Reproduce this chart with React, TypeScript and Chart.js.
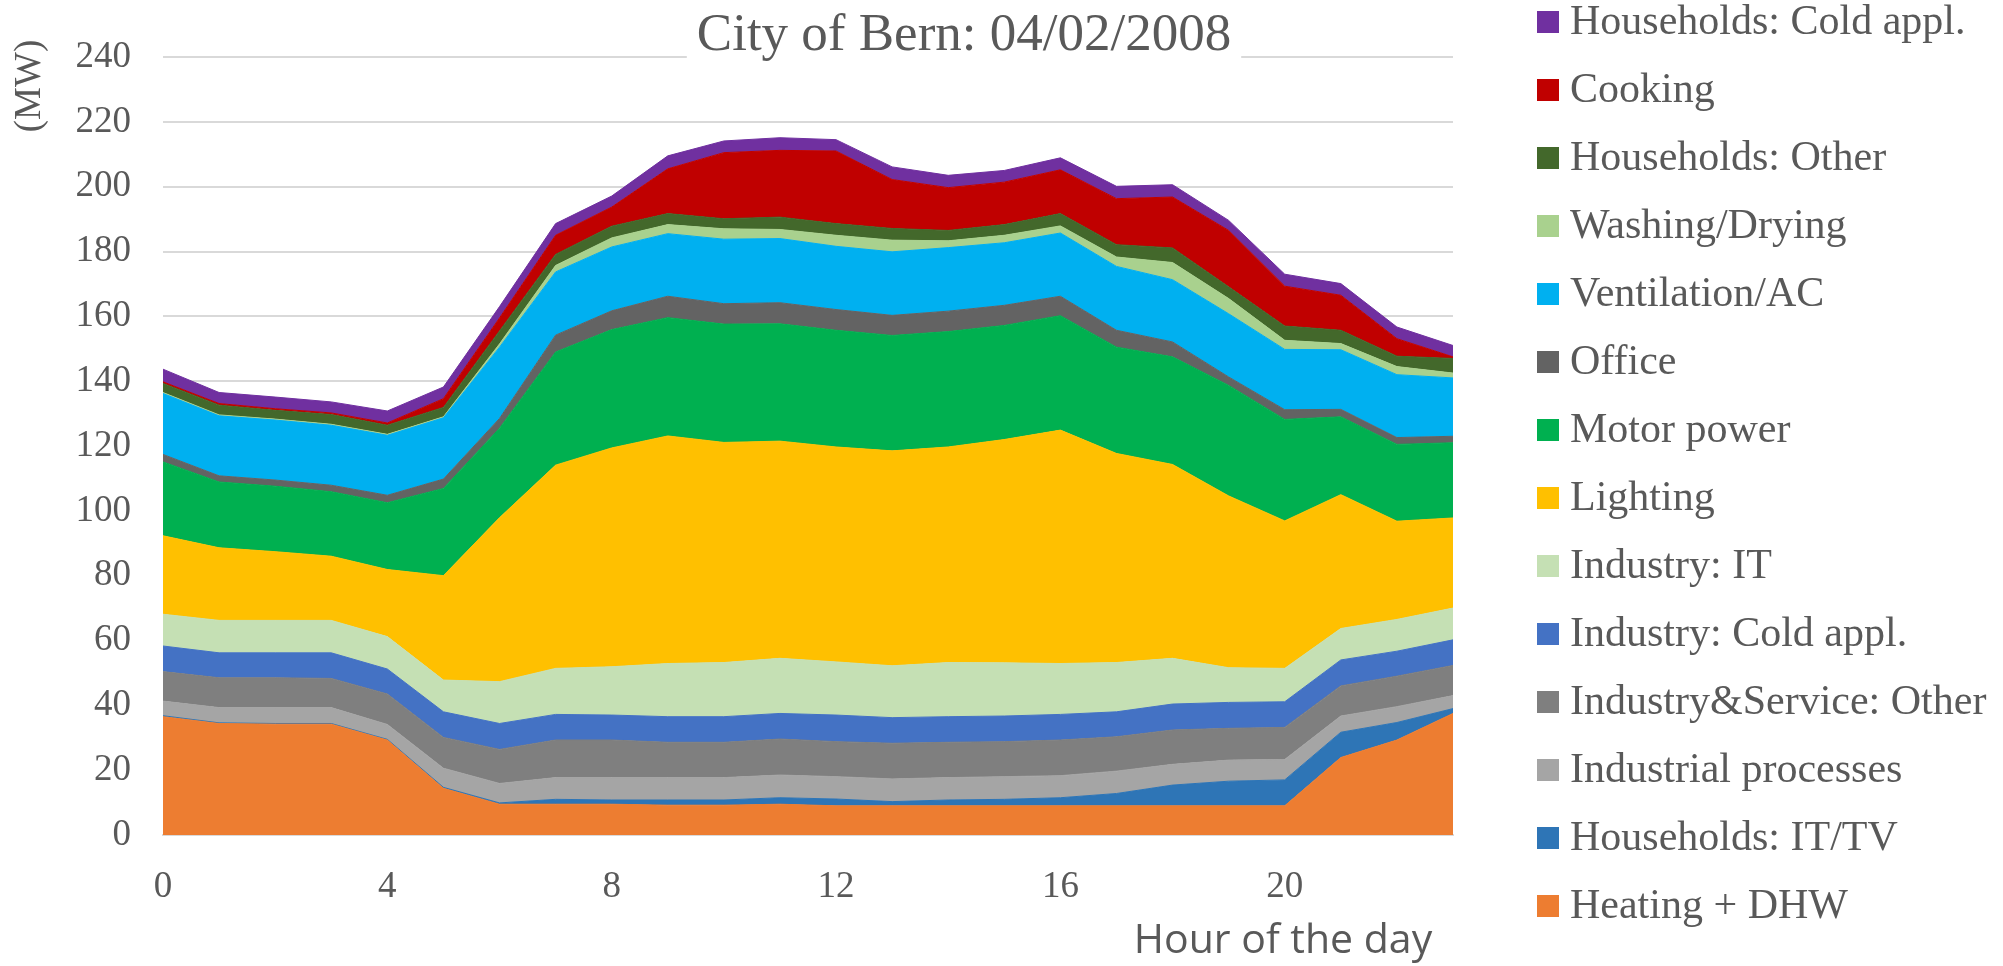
import React, { useEffect, useRef } from 'react';
import { Chart, registerables } from 'chart.js';

Chart.register(...registerables);

// ---- Data (MW per hour, stacked from bottom to top) ----
const hours = [0, 1, 2, 3, 4, 5, 6, 7, 8, 9, 10, 11, 12, 13, 14, 15, 16, 17, 18, 19, 20, 21, 22, 23];

const heatingDhw = [36.5, 34.4, 34.2, 34.2, 29.3, 14.4, 9.5, 9.5, 9.5, 9.2, 9.2, 9.5, 9.0, 9.0, 9.0, 9.0, 9.0, 9.0, 9.0, 9.0, 9.0, 23.9, 29.3, 37.5];
const householdsItTv = [0.3, 0.2, 0.2, 0.2, 0.2, 0.3, 0.4, 1.5, 1.3, 1.6, 1.6, 2.0, 2.1, 1.3, 1.8, 2.0, 2.5, 3.8, 6.4, 7.6, 8.0, 7.8, 5.4, 1.5];
const industrialProcesses = [4.5, 4.7, 4.9, 4.9, 4.6, 5.9, 6.0, 6.7, 6.9, 6.9, 6.9, 7.0, 6.9, 7.0, 6.9, 7.0, 6.8, 6.9, 6.4, 6.5, 6.3, 5.0, 4.9, 4.0];
const industryServiceOther = [9.1, 9.2, 9.2, 9.0, 9.4, 9.5, 10.5, 11.6, 11.6, 10.9, 10.9, 11.1, 10.8, 11.0, 10.9, 10.8, 11.0, 10.6, 10.6, 9.8, 9.9, 9.3, 9.4, 9.3];
const industryColdAppl = [7.9, 7.7, 7.7, 7.9, 7.7, 7.9, 8.0, 7.9, 7.7, 7.9, 7.9, 7.9, 8.2, 7.9, 7.9, 7.9, 7.9, 7.7, 8.0, 8.0, 7.9, 8.0, 7.7, 7.9];
const industryIt = [9.8, 10.0, 10.0, 10.0, 10.0, 9.8, 12.9, 14.2, 14.9, 16.4, 16.7, 17.0, 16.4, 16.0, 16.7, 16.4, 15.7, 15.2, 14.1, 10.7, 10.3, 9.7, 9.8, 9.8];
const lighting = [24.2, 22.4, 21.2, 19.8, 20.7, 32.2, 50.6, 62.7, 67.5, 70.2, 67.9, 67.0, 66.3, 66.3, 66.5, 68.9, 72.0, 64.5, 59.8, 53.0, 45.5, 41.3, 30.3, 27.8];
const motorPower = [22.8, 20.3, 20.2, 19.9, 20.6, 26.9, 27.6, 34.9, 36.5, 36.5, 36.5, 36.2, 36.0, 35.6, 35.6, 35.2, 35.3, 32.8, 33.2, 34.1, 31.3, 24.0, 23.7, 23.2];
const office = [2.3, 1.9, 1.9, 2.0, 2.3, 2.9, 3.0, 5.2, 5.8, 6.6, 6.3, 6.5, 6.4, 6.2, 6.3, 6.2, 6.0, 5.2, 4.6, 2.6, 3.0, 2.3, 2.1, 2.0];
const ventilationAc = [18.8, 18.5, 18.5, 18.5, 18.5, 18.9, 22.0, 19.5, 19.7, 19.3, 19.9, 19.8, 19.5, 19.6, 19.6, 19.3, 19.5, 19.7, 19.2, 19.5, 18.6, 18.4, 19.4, 18.0];
const washingDrying = [0.3, 0.3, 0.3, 0.3, 0.3, 0.3, 1.0, 2.0, 2.8, 2.8, 3.2, 2.8, 3.4, 3.6, 2.1, 2.3, 2.2, 2.9, 5.3, 4.7, 2.8, 1.9, 2.5, 1.5];
const householdsOther = [2.8, 3.0, 2.7, 3.0, 2.8, 2.9, 4.0, 3.4, 3.6, 3.4, 3.1, 3.8, 3.6, 3.6, 3.2, 3.3, 3.8, 3.8, 4.5, 3.6, 4.4, 4.1, 3.2, 4.5];
const cooking = [0.5, 0.5, 0.5, 0.5, 0.7, 2.7, 4.0, 5.9, 5.9, 13.8, 20.4, 20.6, 22.4, 15.1, 13.2, 13.1, 13.5, 14.2, 15.7, 17.4, 12.3, 10.8, 5.4, 0.5];
const householdsColdAppl = [3.9, 3.4, 3.6, 3.4, 3.7, 3.6, 3.5, 3.6, 3.4, 4.0, 3.6, 3.9, 3.5, 3.9, 3.8, 3.6, 3.7, 3.8, 3.8, 3.1, 3.7, 3.6, 3.6, 3.5];

const seriesNames = [
  'Heating + DHW',
  'Households: IT/TV',
  'Industrial processes',
  'Industry&Service: Other',
  'Industry: Cold appl.',
  'Industry: IT',
  'Lighting',
  'Motor power',
  'Office',
  'Ventilation/AC',
  'Washing/Drying',
  'Households: Other',
  'Cooking',
  'Households: Cold appl.',
];
const seriesValues = [
  heatingDhw, householdsItTv, industrialProcesses, industryServiceOther, industryColdAppl,
  industryIt, lighting, motorPower, office, ventilationAc, washingDrying, householdsOther,
  cooking, householdsColdAppl,
];
const seriesColors = [
  '#ED7D31', '#2E75B6', '#A5A5A5', '#7F7F7F', '#4472C4', '#C5E0B4', '#FFC000',
  '#00B050', '#636363', '#00B0F0', '#A9D18E', '#43682B', '#C00000', '#7030A0',
];

const titleText = 'City of Bern: 04/02/2008';
const yTitle = '(MW)';
const xTitle = 'Hour of the day';
const yMin = 0;
const yMax = 240;
const yStep = 20;
const xLabelEvery = 4;

const TEXT = '#595959';
const GRID = '#D9D9D9';
const SERIF = "'Liberation Serif', 'Times New Roman', serif";
const SANS = "'Open Sans', 'Noto Sans', sans-serif";

const decorPlugin = {
  id: 'decor',
  afterDraw(chart: any) {
    const c = chart.ctx as CanvasRenderingContext2D;
    c.save();
    // Title with white box over the top gridline
    c.font = `53px ${SERIF}`;
    const tw = c.measureText(titleText).width;
    const tcx = 964;
    c.fillStyle = '#ffffff';
    c.fillRect(tcx - tw / 2 - 10, 0, tw + 20, 64);
    c.fillStyle = TEXT;
    c.textAlign = 'center';
    c.textBaseline = 'alphabetic';
    c.fillText(titleText, tcx, 50);

    // Y axis title (rotated)
    c.save();
    c.translate(30, 86);
    c.rotate(-Math.PI / 2);
    c.font = `37px ${SERIF}`;
    c.textAlign = 'center';
    c.textBaseline = 'middle';
    c.fillText(yTitle, 0, 0);
    c.restore();

    // X axis title
    c.font = `41px ${SANS}`;
    c.textAlign = 'center';
    c.textBaseline = 'alphabetic';
    c.fillStyle = TEXT;
    c.fillText(xTitle, 1283, 953);

    // Legend (reverse order: top series first)
    const ds = chart.data.datasets;
    c.font = `42px ${SERIF}`;
    c.textAlign = 'left';
    c.textBaseline = 'middle';
    for (let i = 0; i < ds.length; i++) {
      const d = ds[ds.length - 1 - i];
      const cy = 22 + 68 * i;
      c.fillStyle = d.backgroundColor;
      c.fillRect(1537, cy - 11, 22, 22);
      c.fillStyle = TEXT;
      c.fillText(d.label, 1570, cy + 1);
    }
    c.restore();
  },
};

export default function App() {
  const ref = useRef<HTMLCanvasElement>(null);

  useEffect(() => {
    document.body.style.margin = '0';
    const canvas = ref.current;
    if (!canvas) return;
    const datasets = seriesNames.map((name, i) => ({
      label: name,
      data: seriesValues[i],
      backgroundColor: seriesColors[i],
      borderColor: seriesColors[i],
      borderWidth: 1,
      pointRadius: 0,
      pointHoverRadius: 0,
      tension: 0,
      fill: i === 0 ? 'origin' : '-1',
    }));

    const chart = new Chart(canvas, {
      type: 'line',
      data: { labels: hours.map(String), datasets },
      options: {
        responsive: false,
        animation: false,
        devicePixelRatio: 1,
        layout: { padding: { left: 0, top: 57, right: 550, bottom: 0 } },
        plugins: {
          legend: { display: false },
          title: { display: false },
          tooltip: { enabled: false },
        },
        scales: {
          x: {
            type: 'category',
            offset: false,
            grid: { display: false },
            border: { display: true, color: GRID, width: 2 },
            ticks: {
              autoSkip: false,
              maxRotation: 0,
              minRotation: 0,
              padding: 22,
              color: TEXT,
              font: { family: SERIF, size: 37 },
              callback: function (this: any, value: any, index: number) {
                return index % xLabelEvery === 0 ? this.getLabelForValue(value) : null;
              },
            },
            afterFit: (scale: any) => {
              scale.height = 131;
            },
          },
          y: {
            stacked: true,
            min: yMin,
            max: yMax,
            grid: { color: GRID, lineWidth: 2, drawTicks: false },
            border: { display: false },
            ticks: {
              stepSize: yStep,
              padding: 32,
              color: TEXT,
              font: { family: SERIF, size: 37 },
            },
            afterFit: (scale: any) => {
              scale.width = 163;
            },
          },
        },
      } as any,
      plugins: [decorPlugin],
    });
    return () => chart.destroy();
  }, []);

  return (
    <div style={{ position: 'absolute', left: 0, top: 0, width: 2003, height: 966, background: '#ffffff' }}>
      <canvas ref={ref} width={2003} height={966} style={{ display: 'block', width: 2003, height: 966 }} />
    </div>
  );
}
